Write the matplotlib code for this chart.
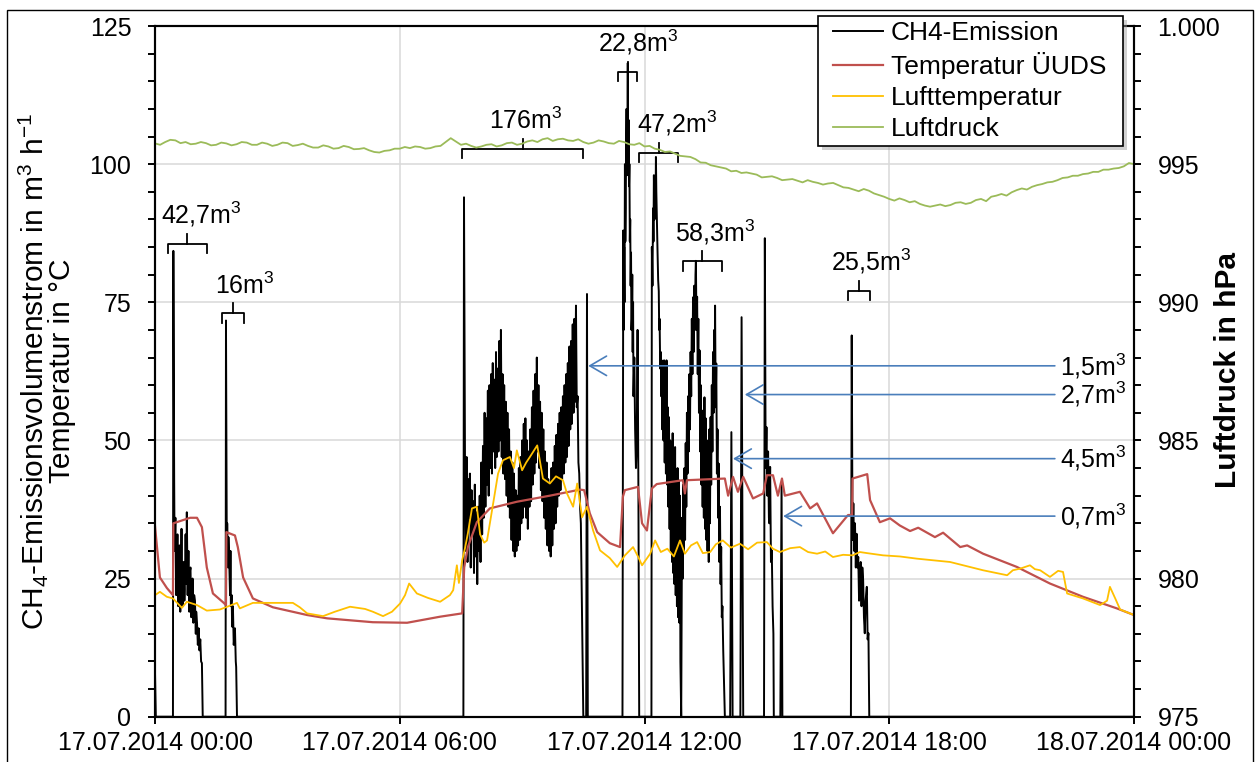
import numpy as np
import matplotlib.pyplot as plt
from matplotlib.ticker import MultipleLocator
from matplotlib.patches import Rectangle

plt.rcParams['font.family'] = ['Liberation Sans', 'DejaVu Sans']
plt.rcParams['mathtext.fontset'] = 'custom'
plt.rcParams['mathtext.rm'] = 'Liberation Sans'
plt.rcParams['mathtext.it'] = 'Liberation Sans:italic'
plt.rcParams['mathtext.bf'] = 'Liberation Sans:bold'
FS = 18

# time in hours after 17.07.2014 00:00
xtick_labels = ['17.07.2014 00:00', '17.07.2014 06:00', '17.07.2014 12:00',
                '17.07.2014 18:00', '18.07.2014 00:00']
druck_ticklabels = ['975', '980', '985', '990', '995', '1.000']

### CH4-Emission (m3/h), one piece per emission event
ch4_a_t = [0.00, 0.02, 0.44, 0.45, 0.47, 0.48, 0.50, 0.52, 0.53, 0.55, 0.57, 0.58, 0.60, 0.62, 0.63,
           0.65, 0.67, 0.68, 0.70, 0.72, 0.73, 0.75, 0.77, 0.78, 0.80, 0.82, 0.84, 0.85, 0.87, 0.89,
           0.91, 0.92, 0.94, 0.96, 0.98, 1.00, 1.01, 1.03, 1.05, 1.07, 1.09, 1.11, 1.13, 1.15, 1.17]
ch4_a_v = [8, 0, 0, 84.3, 42.8, 30, 36, 22, 24.7, 33, 20, 21, 31, 19, 24,
           34, 22, 20, 28, 21, 23, 33, 24, 37, 22, 30, 19, 26, 27, 18,
           21, 25, 17, 22, 21, 15, 19, 17, 13, 16, 12, 14, 10, 9.7, 0]

ch4_b_t = [1.73, 1.74, 1.76, 1.77, 1.79, 1.80, 1.82, 1.84, 1.85, 1.86, 1.88, 1.89, 1.91, 1.93,
           1.94, 1.96, 1.98, 1.99, 2.01]
ch4_b_v = [0, 71.7, 30, 35, 27, 32.5, 28, 22, 30, 20, 22, 16.3, 20, 13,
           14, 16, 10, 9, 0]

ch4_c_t = [7.56, 7.575]
ch4_c_v = [0, 94]
# noisy block 7.60 h .. 10.44 h, every 0.02 h
ch4_c_noise_start = 7.60
ch4_c_noise_step = 0.02
ch4_c_noise = [45, 30, 47, 28, 43, 36, 44, 27, 41, 33, 39, 26, 42, 29, 37, 24, 38, 30, 40, 28,
               46, 33, 49, 36, 55, 38, 54, 42, 59, 40, 60, 45, 62, 44, 64, 48, 61, 45, 66, 47,
               63, 48, 68, 50, 70, 47, 62, 44, 60, 43, 57, 40, 55, 38, 52, 36, 48, 32, 46, 30,
               44, 29, 41, 30, 40, 31, 45, 32, 47, 35, 50, 36, 53, 38, 54, 36, 50, 34, 48, 38,
               52, 39, 56, 42, 59, 44, 62, 46, 65, 48, 60, 45, 57, 41, 55, 39, 52, 36, 48, 34,
               46, 31, 43, 30, 42, 29, 45, 31, 46, 34, 49, 35, 51, 38, 53, 40, 55, 41, 56, 43,
               58, 44, 60, 46, 62, 47, 64, 49, 67, 52, 68, 53, 71, 55, 72, 57, 74.4, 56, 58, 46,
               44, 38, 35]
ch4_c2_t = [10.50, 10.57, 10.59, 10.61]
ch4_c2_v = [0, 0, 76.5, 0]

ch4_d_t = [11.46, 11.47, 11.48, 11.49, 11.50, 11.51, 11.52, 11.53, 11.54, 11.55, 11.56, 11.57,
           11.58, 11.59, 11.60, 11.61, 11.62, 11.63, 11.64, 11.65, 11.66, 11.67, 11.68, 11.69,
           11.70, 11.71, 11.72, 11.73, 11.74, 11.75, 11.77, 11.79, 11.81, 11.83, 11.85, 11.87]
ch4_d_v = [0, 50, 88, 70, 85, 75, 100, 86, 92, 104, 110, 98,
           104, 118.3, 100, 108, 96, 100, 86, 90, 78, 84, 70, 72,
           80, 66, 75, 58, 62, 65, 52, 45, 50, 70, 42, 0]

ch4_e_t = [12.17, 12.18, 12.195, 12.21, 12.22, 12.23, 12.245, 12.26, 12.27, 12.28, 12.29, 12.30,
           12.31, 12.32, 12.335, 12.35, 12.36, 12.37, 12.385, 12.40, 12.41, 12.42, 12.435, 12.45,
           12.465, 12.48, 12.495, 12.51, 12.525, 12.54, 12.555, 12.57, 12.585, 12.60, 12.615, 12.63,
           12.645, 12.66, 12.675, 12.69, 12.705, 12.72, 12.735, 12.75, 12.765, 12.78, 12.795, 12.81,
           12.825, 12.84, 12.855, 12.87, 12.88, 12.90,
           12.92, 12.935, 12.95, 12.965, 12.98, 12.995, 13.01, 13.025, 13.04, 13.055, 13.07, 13.085,
           13.10, 13.115, 13.13, 13.145, 13.16, 13.175, 13.19, 13.205, 13.22, 13.235, 13.25, 13.26,
           13.275, 13.29, 13.305, 13.32, 13.335, 13.35, 13.365, 13.38, 13.395, 13.41, 13.425, 13.44,
           13.455, 13.47, 13.485, 13.50, 13.515, 13.53, 13.545, 13.56, 13.575, 13.59, 13.605, 13.62,
           13.635, 13.65, 13.665, 13.68, 13.695, 13.71, 13.725, 13.73, 13.745, 13.76, 13.775, 13.79,
           13.805, 13.82, 13.835, 13.85, 13.865, 13.88, 13.895, 13.91, 13.93, 13.97]
ch4_e_v = [0, 85, 78, 92, 86, 98, 90, 96, 92, 101.3, 95, 91,
           86, 84, 79, 77, 70, 72, 63, 66, 58, 64.5, 52, 62,
           50, 64.5, 46, 60, 44, 64.5, 42, 56, 38, 54.2, 34, 50,
           30, 49.5, 28, 51.3, 26, 47, 24, 48.8, 22, 44, 20, 45,
           18, 42.8, 17, 40, 10, 0,
           36, 25, 42, 30, 45, 32, 49.5, 38, 55, 44, 58, 48,
           62, 52, 66, 58, 72, 62, 75.9, 66, 78, 70, 80, 82.5,
           70, 76, 62, 72, 55, 66.3, 48, 60, 42, 55.4, 38, 52,
           36, 57.8, 34, 54, 32, 50, 30, 48.8, 28, 52, 35, 54.2,
           42, 60, 48, 66, 55, 70, 58, 74.4, 56, 63.9, 44, 52,
           36, 45.8, 28, 38, 24, 30.7, 18, 20, 12, 0]

ch4_f_t = [14.10, 14.13, 14.16, 14.35, 14.38, 14.42, 14.93, 14.95, 14.97, 14.99, 15.01, 15.03,
           15.05, 15.06, 15.08, 15.10, 15.12, 15.14, 15.16, 15.17, 15.33, 15.36, 15.38]
ch4_f_v = [0, 51.5, 0, 0, 72.3, 0, 0, 86.6, 45, 52.4, 40, 48,
           36, 35, 45.2, 28, 30.1, 20, 15, 0, 0, 42, 0]

ch4_g_t = [17.06, 17.08, 17.10, 17.12, 17.14, 17.16, 17.18, 17.20, 17.22, 17.24, 17.26, 17.28,
           17.30, 17.32, 17.34, 17.36, 17.38, 17.40, 17.42, 17.45, 17.47, 17.49, 17.51, 24.0]
ch4_g_v = [0, 69, 32, 38.6, 30, 35, 27, 33.1, 27, 28.9, 21, 23.5,
           28, 20, 27, 24.7, 18, 15.1, 21, 23.5, 14, 15.1, 0, 0]

### Temperatur ÜUDS (°C)
temp_t = [0.00, 0.12, 0.29, 0.44, 0.45, 0.86, 1.03, 1.15, 1.27, 1.42, 1.67, 1.74, 1.75, 1.96,
          2.03, 2.16, 2.40, 2.89, 3.73, 4.22, 5.34, 6.18, 6.99, 7.53, 7.58, 7.67, 7.89, 8.21,
          8.87, 9.68, 10.42, 10.52, 10.66, 10.84, 11.15, 11.40, 11.47, 11.52, 11.84, 11.94,
          12.06, 12.18, 12.30, 12.94, 12.99, 13.04, 13.97, 14.05, 14.17, 14.29, 14.42, 14.66,
          14.91, 15.00, 15.15, 15.27, 15.37, 15.44, 15.81, 16.06, 16.23, 16.62, 16.99, 17.09,
          17.10, 17.46, 17.53, 17.77, 18.02, 18.26, 18.51, 18.71, 19.12, 19.32, 19.74, 19.91,
          20.30, 21.13, 21.94, 22.75, 23.58, 24.0]
temp_v = [34.5, 25.2, 23.3, 22.0, 35.0, 36.0, 36.0, 34.3, 27.0, 22.3, 20.7, 20.2, 33.4, 32.8,
          30.7, 25.2, 21.4, 19.8, 18.4, 17.8, 17.1, 17.0, 18.1, 18.7, 27.0, 30.7, 35.2, 37.7,
          38.9, 40.0, 41.1, 41.0, 36.8, 33.4, 31.4, 30.7, 39.8, 41.0, 41.6, 35.0,
          33.7, 41.3, 42.1, 42.8, 40.4, 42.8, 43.1, 40.0, 43.4, 40.7, 43.4, 39.5,
          40.4, 43.7, 43.7, 40.0, 43.1, 40.0, 40.7, 37.7, 38.6, 33.2, 36.5, 36.5,
          43.1, 43.9, 39.2, 35.2, 35.9, 34.6, 33.6, 34.2, 32.5, 33.3, 30.7, 31.0,
          29.5, 27.1, 24.1, 21.7, 19.6, 18.4]

### Lufttemperatur (°C)
luft_t = [0.00, 0.12, 0.29, 0.44, 0.66, 0.78, 1.03, 1.27, 1.59, 1.77, 2.01, 2.08, 2.40, 2.89,
          3.38, 3.55, 3.73, 4.12, 4.41, 4.78, 5.15, 5.34, 5.59, 5.81, 6.01, 6.13, 6.23, 6.42,
          6.69, 6.99, 7.23, 7.31, 7.40, 7.45, 7.53, 7.60, 7.67, 7.77, 7.89, 7.97, 8.07, 8.14,
          8.29, 8.41, 8.53, 8.70, 8.80, 8.87, 9.00, 9.10, 9.19, 9.37, 9.51, 9.68, 9.83, 10.00,
          10.10, 10.25, 10.35, 10.47, 10.59, 10.74, 10.91, 11.15, 11.33, 11.52, 11.72, 11.84,
          11.94, 12.14, 12.26, 12.40, 12.56, 12.72, 12.87, 12.99, 13.14, 13.29, 13.43, 13.61,
          13.75, 13.92, 14.12, 14.34, 14.54, 14.76, 15.00, 15.15, 15.32, 15.57, 15.81, 16.01,
          16.23, 16.43, 16.62, 16.87, 17.10, 17.28, 17.46, 17.85, 18.26, 18.68, 19.49, 20.30,
          20.89, 21.03, 21.21, 21.45, 21.57, 21.70, 21.94, 22.14, 22.26, 22.36, 22.75, 23.17,
          23.34, 23.41, 23.54, 23.66, 24.0]
luft_v = [22.0, 22.6, 21.7, 21.4, 19.7, 20.8, 20.2, 19.2, 19.4, 19.9, 20.6, 19.6, 20.6, 20.6,
          20.6, 19.8, 18.7, 18.2, 19.0, 19.9, 19.5, 19.0, 18.2, 19.0, 20.5, 22.0, 24.1, 22.3,
          21.5, 20.8, 22.0, 22.9, 27.4, 24.2, 28.3, 30.5, 33.2, 37.7, 38.0, 33.0, 31.5, 31.9,
          38.6, 44.0, 46.4, 47.0, 45.0, 48.2, 44.6, 46.0, 47.0, 49.1, 43.1, 42.2, 43.5, 42.8,
          40.4, 38.0, 42.2, 36.1, 38.0, 33.7, 30.1, 28.7, 27.1, 29.2, 30.7, 29.0,
          27.4, 29.5, 31.9, 29.8, 30.4, 29.0, 31.9, 29.5, 31.0, 31.6, 29.6, 29.8,
          31.2, 31.9, 30.6, 31.3, 30.3, 31.5, 31.6, 30.4, 29.8, 30.5, 30.7, 29.8,
          29.5, 29.9, 28.9, 29.3, 29.2, 29.8, 29.6, 29.2, 29.0, 28.6, 28.0, 26.5,
          25.6, 26.5, 26.8, 27.4, 26.7, 26.5, 25.3, 26.4, 26.2, 22.3, 21.4, 20.2,
          21.0, 23.5, 21.4, 19.4, 18.4]

### Luftdruck (hPa), every 0.125 h (one row = one hour)
druck_v = [995.75, 995.70, 995.80, 995.88, 995.86, 995.76, 995.80, 995.72,
           995.74, 995.80, 995.76, 995.68, 995.70, 995.78, 995.75, 995.68,
           995.72, 995.80, 995.78, 995.70, 995.70, 995.78, 995.74, 995.66,
           995.70, 995.78, 995.76, 995.66, 995.69, 995.74, 995.66, 995.60,
           995.60, 995.68, 995.64, 995.56, 995.58, 995.66, 995.62, 995.54,
           995.55, 995.58, 995.50, 995.44, 995.42, 995.48, 995.50, 995.56,
           995.56, 995.62, 995.58, 995.64, 995.62, 995.56, 995.58, 995.64,
           995.66, 995.80, 995.94, 995.82, 995.70, 995.74, 995.66, 995.60,
           995.64, 995.70, 995.72, 995.64, 995.68, 995.76, 995.78, 995.70,
           995.74, 995.82, 995.86, 995.80, 995.90, 995.94, 995.84, 995.90,
           995.92, 995.86, 995.84, 995.90, 995.80, 995.74, 995.78, 995.86,
           995.82, 995.76, 995.74, 995.84, 995.80, 995.72, 995.70, 995.76,
           995.64, 995.66, 995.56, 995.52, 995.44, 995.46, 995.38, 995.30,
           995.28, 995.26, 995.18, 995.06, 995.05, 994.96, 994.92, 994.88,
           994.84, 994.74, 994.76, 994.68, 994.70, 994.66, 994.62, 994.52,
           994.54, 994.56, 994.50, 994.42, 994.44, 994.46, 994.40, 994.34,
           994.42, 994.36, 994.32, 994.26, 994.30, 994.32, 994.24, 994.16,
           994.14, 994.08, 994.02, 994.10, 994.04, 993.94, 993.88, 993.82,
           993.74, 993.68, 993.76, 993.70, 993.62, 993.66, 993.56, 993.50,
           993.46, 993.50, 993.54, 993.48, 993.52, 993.60, 993.62, 993.56,
           993.60, 993.70, 993.74, 993.66, 993.82, 993.86, 993.92, 993.86,
           993.98, 994.06, 994.12, 994.08, 994.18, 994.24, 994.28, 994.34,
           994.36, 994.42, 994.50, 994.52, 994.58, 994.58, 994.64, 994.66,
           994.72, 994.72, 994.80, 994.80, 994.84, 994.86, 994.92, 995.04,
           995.00]
druck_t = np.linspace(0, 24, len(druck_v))

# emission volumes: label, bracket start/end (h), bracket height
klammer_labels = ['42,7m$^3$', '16m$^3$', '176m$^3$', '22,8m$^3$', '47,2m$^3$', '58,3m$^3$', '25,5m$^3$']
klammer_von = [0.32, 1.64, 7.53, 11.35, 11.87, 12.94, 16.99]
klammer_bis = [1.27, 2.18, 10.49, 11.82, 12.82, 13.90, 17.53]
klammer_y = [85.6, 73.0, 102.8, 116.7, 102.1, 82.4, 77.1]
klammer_text_h = [1.14, 2.21, 9.10, 11.84, 12.80, 13.73, 17.55]

pfeil_labels = ['1,5m$^3$', '2,7m$^3$', '4,5m$^3$', '0,7m$^3$']
pfeil_ziel = [10.62, 14.46, 14.17, 15.40]
pfeil_y = [63.5, 58.3, 46.7, 36.3]

ch4_t = np.concatenate([ch4_a_t, ch4_b_t, ch4_c_t,
                        ch4_c_noise_start + ch4_c_noise_step * np.arange(len(ch4_c_noise)),
                        ch4_c2_t, ch4_d_t, ch4_e_t, ch4_f_t, ch4_g_t])
ch4_v = np.concatenate([ch4_a_v, ch4_b_v, ch4_c_v, ch4_c_noise, ch4_c2_v,
                        ch4_d_v, ch4_e_v, ch4_f_v, ch4_g_v])

W, H = 1256, 762
fig = plt.figure(figsize=(W / 100, H / 100), dpi=100)
ax = fig.add_axes([155 / W, 1 - 716.7 / H, (1134 - 155) / W, (716.7 - 26) / H])
ax2 = ax.twinx()

l1, = ax.plot(ch4_t, ch4_v, color='black', lw=1.4, label='CH4-Emission', zorder=2)
l2, = ax.plot(temp_t, temp_v, color='#c0504d', lw=1.6, label='Temperatur ÜUDS', zorder=3)
l3, = ax.plot(luft_t, luft_v, color='#ffc000', lw=1.3, label='Lufttemperatur', zorder=4)
l4, = ax2.plot(druck_t, druck_v, color='#9bbb59', lw=1.3, label='Luftdruck')

ax.set_xlim(0, 24)
ax.set_ylim(0, 125)
ax2.set_ylim(975, 1000)
ax.set_xticks([0, 6, 12, 18, 24])
ax.set_xticklabels(xtick_labels)
ax.set_yticks([0, 25, 50, 75, 100, 125])
ax.yaxis.set_minor_locator(MultipleLocator(5))
ax2.set_yticks([975, 980, 985, 990, 995, 1000])
ax2.set_yticklabels(druck_ticklabels)
ax2.yaxis.set_minor_locator(MultipleLocator(1))

ax.grid(True, which='major', color='#d9d9d9', lw=1.1)
ax.set_axisbelow(True)
ax.tick_params(axis='y', which='both', direction='out', length=5, width=1.4, labelsize=FS, pad=12)
ax.tick_params(axis='x', which='both', direction='out', length=5, width=1.4, labelsize=FS, pad=5)
ax2.tick_params(axis='y', which='both', direction='out', length=5, width=1.4, labelsize=FS, pad=12)
for a in (ax, ax2):
    for s in a.spines.values():
        s.set_linewidth(1.5)
        s.set_color('black')

# brackets with volume labels
for lab, h0, h1, yb, ht in zip(klammer_labels, klammer_von, klammer_bis, klammer_y, klammer_text_h):
    hc = (h0 + h1) / 2
    ax.plot([h0, h0, h1, h1], [yb - 1.7, yb, yb, yb - 1.7], color='black', lw=1.3, zorder=6,
            solid_joinstyle='round')
    ax.plot([hc, hc], [yb, yb + 1.8], color='black', lw=1.3, zorder=6)
    ax.text(ht, yb + 2.6, lab, fontsize=FS, ha='center', va='bottom', zorder=7)

# blue arrows for the small events
for lab, hz, yp in zip(pfeil_labels, pfeil_ziel, pfeil_y):
    ax.annotate('', xy=(hz, yp), xytext=(22.06, yp),
                arrowprops=dict(arrowstyle='->,head_length=0.6,head_width=0.35',
                                color='#4a7ebb', lw=1.2, mutation_scale=20,
                                shrinkA=0, shrinkB=0), zorder=6)
    ax.text(22.19, yp, lab, fontsize=FS, ha='left', va='center', zorder=7)

fig.text(46 / W, 1 - 371 / H,
         'CH$_4$-Emissionsvolumenstrom in m$^3$ h$^{-1}$\nTemperatur in °C',
         rotation=90, ha='center', va='center', fontsize=21.5, linespacing=0.95,
         multialignment='center')
fig.text(1228 / W, 1 - 370 / H, 'Luftdruck in hPa', rotation=90, ha='center', va='center',
         fontsize=21.5, fontweight='bold')

# legend box with soft shadow, drawn over the axes
fig.patches.append(Rectangle((822 / W, 1 - 150 / H), (1123 - 818) / W, (146 - 16) / H,
                             transform=fig.transFigure, facecolor='#9a9a9a', alpha=0.45,
                             edgecolor='none', zorder=3))
fig.patches.append(Rectangle((818 / W, 1 - 146 / H), (1123 - 818) / W, (146 - 16) / H,
                             transform=fig.transFigure, facecolor='white',
                             edgecolor='black', lw=1.2, zorder=4))
fig.legend([l1, l2, l3, l4], [l.get_label() for l in (l1, l2, l3, l4)],
           loc='upper left', bbox_to_anchor=(833 / W, 1 - 21 / H),
           bbox_transform=fig.transFigure, borderaxespad=0, borderpad=0, fontsize=19,
           frameon=False, handlelength=1.9, handletextpad=0.28, labelspacing=0.27).set_zorder(5)

fig.patches.append(Rectangle((7 / W, -0.1), (1253 - 7) / W, 1 - 10 / H + 0.1,
                             transform=fig.transFigure, fill=False, edgecolor='black', lw=1.0))

fig.savefig('out.png', dpi=100)
